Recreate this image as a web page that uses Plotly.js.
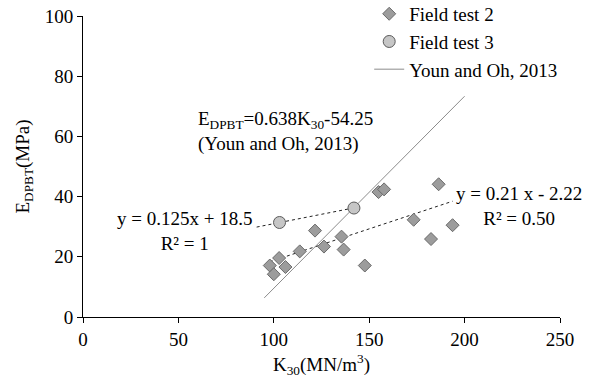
<!DOCTYPE html>
<html>
<head>
<meta charset="utf-8">
<script src="https://cdn.plot.ly/plotly-3.0.1.min.js"></script>
<style>html,body{margin:0;padding:0;background:#fff;}#chart{width:600px;height:387px;}</style>
</head>
<body>
<div id="chart"></div>
<script>
// Field test 2 (diamonds)
const ft2K = [97.9, 100.0, 102.8, 106.1, 113.6, 121.6, 126.3, 135.5, 136.6, 147.7, 154.9, 157.8, 173.3, 182.4, 186.4, 193.7];
const ft2E = [17.1, 14.2, 19.6, 16.6, 21.8, 28.7, 23.4, 26.7, 22.4, 17.1, 41.5, 42.4, 32.3, 25.9, 44.1, 30.5];
// Field test 3 (circles)
const ft3K = [103, 142];
const ft3E = [31.4, 36.2];
// Trendline coefficients and extents
const ft2Fit = {slope: 0.21, intercept: -2.22, from: 97.9, to: 193.7};
const ft3Fit = {slope: 0.125, intercept: 18.5, from: 91, to: 142};
const younFit = {slope: 0.638, intercept: -54.25, from: 95, to: 200};
const xTicks = [0, 50, 100, 150, 200, 250];
const yTicks = [0, 20, 40, 60, 80, 100];

function fitLine(f){ return {x:[f.from, f.to], y:[f.slope*f.from+f.intercept, f.slope*f.to+f.intercept]}; }
const l2 = fitLine(ft2Fit), l3 = fitLine(ft3Fit), ly = fitLine(younFit);

const FONT = 'Liberation Serif, Times New Roman, serif';
const traces = [
  {x:l2.x, y:l2.y, mode:'lines', line:{color:'#222', width:1, dash:'dot'}, showlegend:false, hoverinfo:'skip'},
  {x:l3.x, y:l3.y, mode:'lines', line:{color:'#222', width:1, dash:'dot'}, showlegend:false, hoverinfo:'skip'},
  {x:ly.x, y:ly.y, mode:'lines', name:'Youn and Oh, 2013', line:{color:'#8c8c8c', width:1}, legendrank:3},
  {x:ft2K, y:ft2E, mode:'markers', name:'Field test 2', marker:{symbol:'diamond', size:10, color:'#9c9c9c', line:{color:'#6a6a6a', width:1}}, legendrank:1},
  {x:ft3K, y:ft3E, mode:'markers', name:'Field test 3', marker:{symbol:'circle', size:12, color:'#c6c6c6', line:{color:'#5a5a5a', width:1}}, legendrank:2}
];

const layout = {
  width:600, height:387,
  margin:{l:83, r:40, t:16, b:70, autoexpand:false},
  paper_bgcolor:'#fff', plot_bgcolor:'#fff',
  font:{family:FONT, size:19, color:'#000'},
  showlegend:true,
  legend:{x:0.6, y:1.07, xanchor:'left', yanchor:'top', bgcolor:'rgba(0,0,0,0)', font:{family:FONT, size:19}, traceorder:'normal', itemwidth:30},
  xaxis:{range:[0,250], tickvals:xTicks, ticktext:xTicks.map(String), showgrid:false, zeroline:false, showline:true, linecolor:'#000', linewidth:1, ticks:'outside', ticklen:5, tickcolor:'#000', tickfont:{family:FONT, size:19},
    title:{text:'K<sub>30</sub>(MN/m<sup>3</sup>)', font:{family:FONT, size:19}, standoff:8}},
  yaxis:{range:[0,100], tickvals:yTicks, ticktext:yTicks.map(String), showgrid:false, zeroline:false, showline:true, linecolor:'#000', linewidth:1, ticks:'outside', ticklen:5, tickcolor:'#000', tickfont:{family:FONT, size:19},
    title:{text:'E<sub>DPBT</sub>(MPa)', font:{family:FONT, size:19}, standoff:10}},
  annotations:[
    {x:59.2, y:61.5, xref:'x', yref:'y', xanchor:'left', yanchor:'middle', align:'left', showarrow:false, text:'E<sub>DPBT</sub>=0.638K<sub>30</sub>-54.25<br>(Youn and Oh, 2013)', font:{family:FONT, size:19}},
    {x:53, y:28.7, xref:'x', yref:'y', xanchor:'center', yanchor:'middle', align:'center', showarrow:false, text:'y = 0.125x + 18.5<br>R² = 1', font:{family:FONT, size:19}},
    {x:228.5, y:37.0, xref:'x', yref:'y', xanchor:'center', yanchor:'middle', align:'center', showarrow:false, text:'y = 0.21 x - 2.22<br>R² = 0.50', font:{family:FONT, size:19}}
  ]
};
Plotly.newPlot('chart', traces, layout, {displayModeBar:false, staticPlot:true});
</script>
</body>
</html>
